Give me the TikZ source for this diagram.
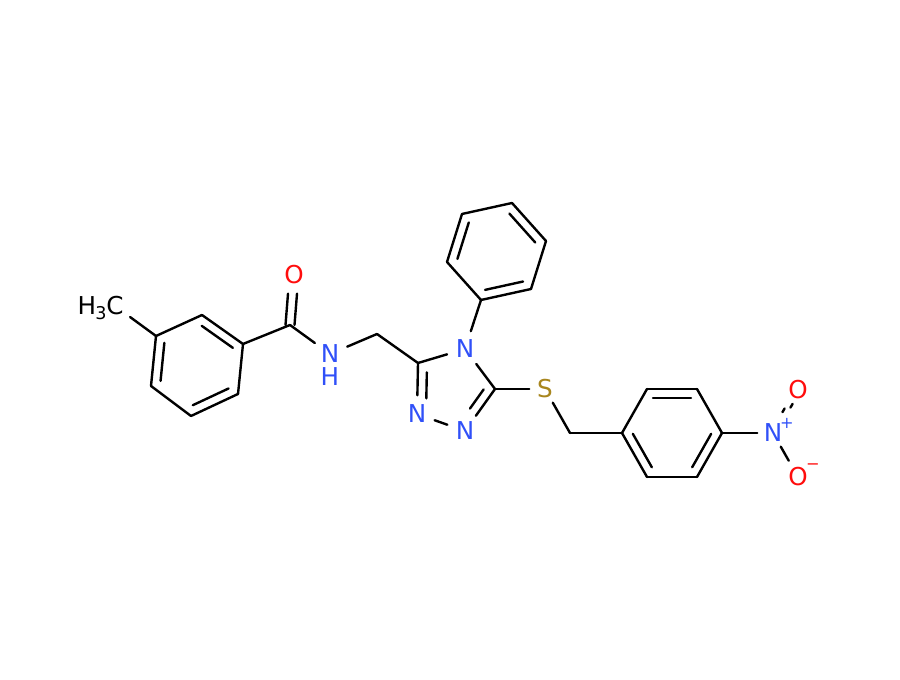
\documentclass[tikz,border=0pt]{standalone}
\usepackage{fontspec}
\setsansfont{DejaVu Sans}
\usepackage{xcolor}
\usetikzlibrary{positioning,calc}
\definecolor{nitrogen}{HTML}{3050F8}
\definecolor{oxygen}{HTML}{FF0D0D}
\definecolor{sulfur}{HTML}{A8861E}
\tikzset{bond/.style = {line width=.68pt,line cap=round}}
\tikzset{atom/.style = {circle,inner sep=0pt,minimum size=.36cm,font=\sffamily\fontsize{7}{8}\selectfont}}
\tikzset{charge/.style = {inner sep=0pt,font=\sffamily\fontsize{4.6}{5}\selectfont}}
\newcommand{\innerbond}[4]{\path[bond] ($(#1)!#3!(#2)!.09cm!-90:(#2)$) edge ($(#1)!#4!(#2)!.09cm!-90:(#2)$);}

\begin{document}
\begin{tikzpicture}[x=.01cm,y=-.01cm]
                    \useasboundingbox (0,0) rectangle (900,680);

                    \coordinate (a1) at (156,336);
                    \coordinate (a2) at (202,315);
                    \coordinate (a3) at (243,344);
                    \coordinate (a4) at (238,394);
                    \coordinate (a5) at (191,416);
                    \coordinate (a6) at (151,386);
                    \coordinate (co) at (290,325);
                    \coordinate (ch2a) at (377,334);
                    \coordinate (c3) at (418,363);
                    \coordinate (c5) at (495,389);
                    \coordinate (ch2b) at (570,433);
                    \coordinate (b1) at (481,300);
                    \coordinate (b2) at (447,262);
                    \coordinate (b3) at (462,214);
                    \coordinate (b4) at (512,203);
                    \coordinate (b5) at (546,241);
                    \coordinate (b6) at (531,289);
                    \coordinate (d1) at (622,433);
                    \coordinate (d2) at (647,389);
                    \coordinate (d3) at (697,389);
                    \coordinate (d4) at (722,433);
                    \coordinate (d5) at (697,477);
                    \coordinate (d6) at (647,477);

                    \node[atom] (me) at (115,306) {C};
                    \node[atom,shape=rectangle,minimum size=0pt,anchor=base east] (h3) at ([xshift=-.06cm]me.base) {H\kern-.03em\textsubscript{3}};
                    \node[atom,text=oxygen] (o1) at (294,275) {O};
                    \node[atom,text=nitrogen] (n1) at (330,354) {N};
                    \node[atom,text=nitrogen] (h1) [below=-.15cm of n1] {H};
                    \node[atom,text=nitrogen] (n4) at (465,349) {N};
                    \node[atom,text=nitrogen] (n3) at (465,431) {N};
                    \node[atom,text=nitrogen] (n2) at (417,414) {N};
                    \node[atom,text=sulfur,minimum size=.3cm] (s1) at (545,389) {S};
                    \node[atom,text=nitrogen,minimum size=.3cm] (n5) at (773,433) {N};
                    \node[atom,text=oxygen] (o2) at (798,390) {O};
                    \node[atom,text=oxygen] (o3) at (798,477) {O};
                    \node[charge,text=nitrogen] (plus) at (787,423) {+};
                    \node[charge,text=oxygen] (minus) at (813,467) {\textminus};

                    \path[bond] (me) edge (a1);
                    \path[bond] (a1) edge (a2);
                    \path[bond] (a2) edge (a3);
                    \path[bond] (a3) edge (a4);
                    \path[bond] (a4) edge (a5);
                    \path[bond] (a5) edge (a6);
                    \path[bond] (a6) edge (a1);
                    \innerbond{a2}{a3}{.12}{.88}
                    \innerbond{a4}{a5}{.12}{.88}
                    \innerbond{a6}{a1}{.12}{.88}

                    \path[bond] (a3) edge (co);
                    \path[bond,transform canvas={xshift=-.045cm}] (co) edge (o1);
                    \path[bond,transform canvas={xshift=.045cm}] (co) edge (o1);
                    \path[bond] (co) edge (n1);
                    \path[bond] (n1) edge (ch2a);
                    \path[bond] (ch2a) edge (c3);

                    \path[bond] (c3) edge (n4);
                    \path[bond] (n4) edge (c5);
                    \path[bond] (c5) edge (n3);
                    \path[bond] (n3) edge (n2);
                    \path[bond] (n2) edge (c3);
                    \innerbond{n2}{c3}{.31}{.82}
                    \innerbond{c5}{n3}{.135}{.59}

                    \path[bond] (n4) edge (b1);
                    \path[bond] (b1) edge (b2);
                    \path[bond] (b2) edge (b3);
                    \path[bond] (b3) edge (b4);
                    \path[bond] (b4) edge (b5);
                    \path[bond] (b5) edge (b6);
                    \path[bond] (b6) edge (b1);
                    \innerbond{b2}{b3}{.12}{.88}
                    \innerbond{b4}{b5}{.12}{.88}
                    \innerbond{b6}{b1}{.12}{.88}

                    \path[bond] (c5) edge (s1);
                    \path[bond] (s1) edge (ch2b);
                    \path[bond] (ch2b) edge (d1);
                    \path[bond] (d1) edge (d2);
                    \path[bond] (d2) edge (d3);
                    \path[bond] (d3) edge (d4);
                    \path[bond] (d4) edge (d5);
                    \path[bond] (d5) edge (d6);
                    \path[bond] (d6) edge (d1);
                    \innerbond{d2}{d3}{.12}{.88}
                    \innerbond{d4}{d5}{.12}{.88}
                    \innerbond{d6}{d1}{.12}{.88}

                    \path[bond] (d4) edge (n5);
                    \path[bond,transform canvas={xshift=-.04cm,yshift=-.023cm},shorten <=.11cm] (n5) edge (o2);
                    \path[bond,transform canvas={xshift=.04cm,yshift=.023cm},shorten <=.11cm] (n5) edge (o2);
                    \path[bond] (n5) edge (o3);
                \end{tikzpicture}
\end{document}
